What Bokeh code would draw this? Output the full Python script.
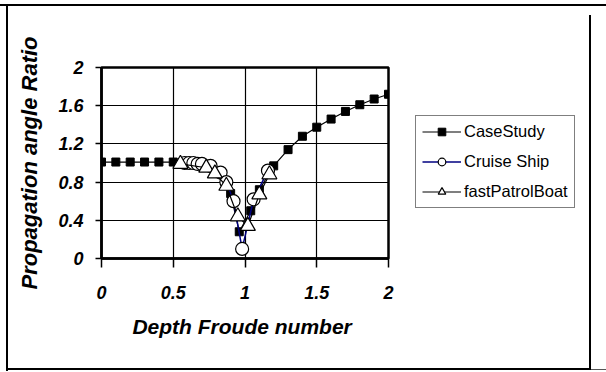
from bokeh.plotting import figure
from bokeh.layouts import row
from bokeh.models import Range1d, FixedTicker, Legend, LegendItem
from bokeh.embed import file_html
from bokeh.resources import INLINE

# --- data ---
case_x = [0.0, 0.1, 0.2, 0.3, 0.4, 0.5, 0.6, 0.7, 0.8, 0.9, 0.96, 1.04, 1.1,
          1.2, 1.3, 1.4, 1.5, 1.6, 1.7, 1.8, 1.9, 2.0]
case_y = [1.01, 1.01, 1.01, 1.01, 1.01, 1.01, 1.0, 0.98, 0.9, 0.68, 0.28, 0.5, 0.72,
          0.97, 1.14, 1.28, 1.375, 1.46, 1.54, 1.61, 1.67, 1.72]

cruise_x = [0.58, 0.61, 0.64, 0.67, 0.70, 0.76, 0.83, 0.87, 0.92, 0.98, 1.06, 1.16]
cruise_y = [1.0, 1.0, 1.0, 0.99, 0.99, 0.97, 0.90, 0.80, 0.60, 0.10, 0.62, 0.92]

patrol_x = [0.55, 0.73, 0.79, 0.87, 0.95, 1.02, 1.10, 1.17]
patrol_y = [0.99, 0.95, 0.89, 0.76, 0.44, 0.34, 0.67, 0.88]

series_names = ["CaseStudy", "Cruise Ship", "fastPatrolBoat"]

x_ticks = [0, 0.5, 1, 1.5, 2]
x_tick_labels = {0: "0", 0.5: "0.5", 1: "1", 1.5: "1.5", 2: "2"}
y_ticks = [0, 0.4, 0.8, 1.2, 1.6, 2]
y_tick_labels = {0: "0", 0.4: "0.4", 0.8: "0.8", 1.2: "1.2", 1.6: "1.6", 2: "2"}

FONT = "Liberation Sans"

series = [(case_x, case_y), (cruise_x, cruise_y), (patrol_x, patrol_y)]

# styles for the three series
sty = [
    dict(line=dict(line_color="black", line_width=1.2),
         mark=dict(marker="square", size=8, fill_color="black", line_color="black")),
    dict(line=dict(line_color="#000080", line_width=1.5),
         mark=dict(marker="circle", size=13, fill_color="white", line_color="black",
                   line_width=1.2)),
    dict(line=dict(line_color="black", line_width=1.2),
         mark=dict(marker="triangle", size=15, fill_color="white", line_color="black",
                   line_width=1.2)),
]
legend_marker_sizes = [7, 10, 11]

# ---------------- main plot ----------------
p = figure(width=400, height=372, output_backend="svg", toolbar_location=None,
           x_range=Range1d(0, 2), y_range=Range1d(0, 2),
           min_border_left=101, min_border_right=12, min_border_top=67,
           min_border_bottom=114)
p.background_fill_color = "white"
p.border_fill_color = None
p.outline_line_color = "black"
p.outline_line_width = 2.5

for ax in (p.xaxis[0], p.yaxis[0]):
    ax.axis_line_color = "black"
    ax.axis_line_width = 2.5
    ax.major_tick_line_color = "black"
    ax.major_tick_line_width = 1.5
    ax.major_tick_in = 0
    ax.minor_tick_line_color = None
    ax.major_label_text_font = FONT
    ax.major_label_text_font_style = "bold italic"
    ax.major_label_text_font_size = "18px"
    ax.major_label_text_color = "black"
    ax.axis_label_text_font = FONT
    ax.axis_label_text_font_style = "bold italic"
    ax.axis_label_text_color = "black"

p.xaxis.ticker = FixedTicker(ticks=x_ticks)
p.xaxis.major_label_overrides = x_tick_labels
p.xaxis.major_tick_out = 9
p.xaxis.major_label_standoff = 18
p.xaxis.axis_label = "Depth  Froude number"
p.xaxis.axis_label_text_font_size = "21px"
p.xaxis.axis_label_standoff = 13

p.yaxis.ticker = FixedTicker(ticks=y_ticks)
p.yaxis.major_label_overrides = y_tick_labels
p.yaxis.major_tick_out = 6
p.yaxis.major_label_standoff = 12
p.yaxis.axis_label = "Propagation angle Ratio"
p.yaxis.axis_label_text_font_size = "22px"
p.yaxis.axis_label_standoff = 13

p.xgrid.ticker = FixedTicker(ticks=[0.5, 1, 1.5])
p.ygrid.ticker = FixedTicker(ticks=[0.4, 0.8, 1.2, 1.6])
for gr in (p.xgrid[0], p.ygrid[0]):
    gr.grid_line_color = "black"
    gr.grid_line_width = 1.2

for (xs, ys), st in zip(series, sty):
    p.line(xs, ys, **st["line"])
    p.scatter(xs, ys, **st["mark"])

# ---------------- legend panel ----------------
# its own ranges lie far from the data, so its renderers only feed the legend
q = figure(width=206, height=372, output_backend="svg", toolbar_location=None,
           x_range=Range1d(10, 11), y_range=Range1d(10, 11),
           x_axis_type=None, y_axis_type=None,
           min_border_left=0, min_border_right=0, min_border_top=0,
           min_border_bottom=0)
q.grid.visible = False
q.outline_line_color = None
q.background_fill_color = None
q.border_fill_color = None

items = []
for name, (xs, ys), st, ms in zip(series_names, series, sty, legend_marker_sizes):
    lr = q.line(xs, ys, **st["line"])
    mk = dict(st["mark"])
    mk["size"] = ms
    mr = q.scatter(xs, ys, **mk)
    items.append(LegendItem(label=name, renderers=[lr, mr]))

legend = Legend(items=items, location=(15, 50))
legend.label_text_font = FONT
legend.label_text_font_size = "16.5px"
legend.label_text_color = "black"
legend.glyph_height = 19
legend.glyph_width = 39
legend.label_height = 19
legend.spacing = 11
legend.padding = 6
legend.margin = 0
legend.label_standoff = 3
legend.border_line_color = "black"
legend.border_line_width = 1.2
legend.background_fill_color = "white"
legend.background_fill_alpha = 1
q.add_layout(legend)

# outer chart-area border lines drawn as CSS background layers
g = "linear-gradient(#000,#000)"
bg = ", ".join([
    g + " 0px 4px / 606px 2px no-repeat",        # top
    g + " 6px 4px / 2px 367px no-repeat",        # left
    g + " 6px 368px / 585px 2px no-repeat",      # bottom
    g + " 589px 15px / 2px 355px no-repeat",     # right vertical
    "linear-gradient(#555,#555) 591px 369px / 15px 1px no-repeat",
    "white",
])

layout = row(p, q, spacing=0, styles={"background": bg})

open("out.html", "w").write(file_html(layout, INLINE))
